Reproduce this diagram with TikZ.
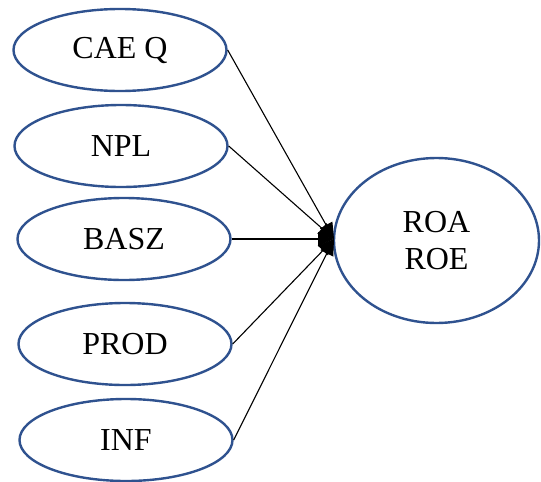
\documentclass[tikz,border=0pt]{standalone}
\usepackage{fontspec}
\setmainfont{Liberation Serif}
\usetikzlibrary{shapes.geometric,arrows.meta}
\definecolor{ellblue}{RGB}{47,82,143}
\begin{document}
\begin{tikzpicture}[x=1pt,y=-1pt,
  varnode/.style={ellipse,draw=ellblue,line width=2.4pt,minimum width=213pt,minimum height=82pt,inner sep=0pt,font=\fontsize{32}{37}\selectfont,align=center},
  link/.style={line width=1.1pt,-{Triangle[length=16pt,width=14pt]}}]
\useasboundingbox (0,0) rectangle (541,482);
\node[varnode] (cae) at (120,50) {CAE Q};
\node[varnode] (npl) at (121,146) {NPL};
\node[varnode] (basz) at (124,239) {BASZ};
\node[varnode] (prod) at (125,344) {PROD};
\node[varnode] (inf) at (126,440) {INF};
\node[varnode,minimum width=205pt,minimum height=165pt] (roa) at (436.5,240.5) {ROA\\ROE};
\coordinate (tip) at (334,239);
\draw[link] (cae.east) -- (tip);
\draw[link] (npl.east) -- (tip);
\draw[link] (basz.east) -- (tip);
\draw[link] (prod.east) -- (tip);
\draw[link] (inf.east) -- (tip);
\end{tikzpicture}
\end{document}
